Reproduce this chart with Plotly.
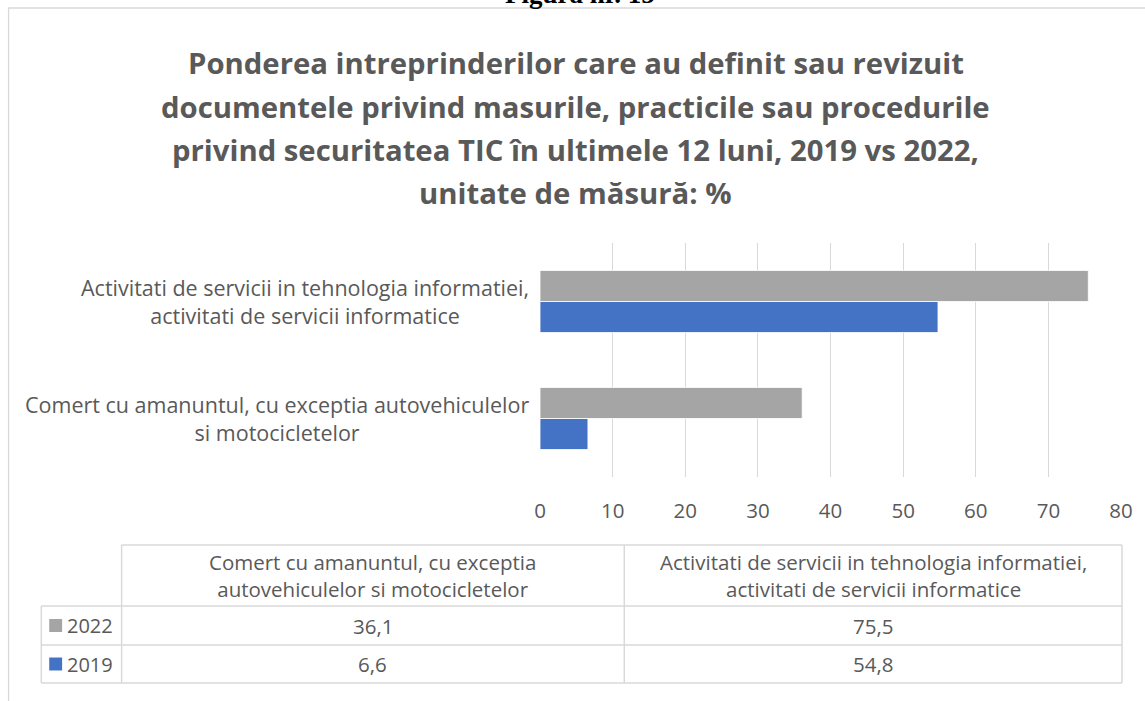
import plotly.graph_objects as go

# ---- data ----
categories = [
    "Comert cu amanuntul, cu exceptia autovehiculelor si motocicletelor",
    "Activitati de servicii in tehnologia informatiei, activitati de servicii informatice",
]
axis_labels = [
    "Comert cu amanuntul, cu exceptia autovehiculelor<br>si motocicletelor",
    "Activitati de servicii in tehnologia informatiei,<br>activitati de servicii informatice",
]
table_headers = [
    "Comert cu amanuntul, cu exceptia<br>autovehiculelor si motocicletelor",
    "Activitati de servicii in tehnologia informatiei,<br>activitati de servicii informatice",
]
series_names = ["2019", "2022"]
values_2019 = [6.6, 54.8]
values_2022 = [36.1, 75.5]
x_ticks = [0, 10, 20, 30, 40, 50, 60, 70, 80]
title_lines = [
    "Ponderea intreprinderilor care au definit sau revizuit",
    "documentele privind masurile, practicile sau procedurile",
    "privind securitatea TIC în ultimele 12 luni, 2019 vs 2022,",
    "unitate de măsură: %",
]

# ---- layout geometry (pixels) ----
W, H = 1145, 701
PL, PR, PT, PB = 540, 1126, 243, 477
TXT = "#595959"
GRID = "#d9d9d9"
FONT = "Open Sans"
colors = {"2019": "#4472c4", "2022": "#a5a5a5"}


def px(x):
    return (x - PL) / (PR - PL)


def py(y):
    return (PB - y) / (PB - PT)


fig = go.Figure()
for name, vals in [("2019", values_2019), ("2022", values_2022)]:
    fig.add_trace(go.Bar(
        y=categories, x=vals, name=name, orientation="h",
        marker=dict(color=colors[name], line=dict(color="white", width=0.8)),
        showlegend=False,
    ))

shapes = []
annotations = []

# outer chart border
shapes.append(dict(type="rect", xref="paper", yref="paper",
                   x0=px(4), x1=px(1152), y0=py(8), y1=py(710),
                   line=dict(color=GRID, width=1.3)))

# figure caption (cut off at the top, as in the source)
annotations.append(dict(text="<b>Figura nr. 15</b>", xref="paper", yref="paper",
                        x=px(580), y=py(11), xanchor="center", yanchor="bottom",
                        showarrow=False,
                        font=dict(family="Liberation Serif", size=27, color="black")))

# title lines
title_y = [63, 107, 150, 193]
for line, yy in zip(title_lines, title_y):
    annotations.append(dict(text="<b>" + line + "</b>", xref="paper", yref="paper",
                            x=px(576), y=py(yy), xanchor="center", yanchor="middle",
                            showarrow=False,
                            font=dict(family=FONT, size=29.3, color=TXT)))

# category labels
for cat, lab in zip(categories, axis_labels):
    annotations.append(dict(text=lab, xref="paper", yref="y", x=px(531), y=cat,
                            xanchor="right", yanchor="middle", align="center",
                            showarrow=False,
                            font=dict(family=FONT, size=21.5, color=TXT)))

# ---- data table ----
line_style = dict(color=GRID, width=1.5)
cx = [37, 118, 625, 1127]
ry = [545, 606, 645, 683]
shapes.append(dict(type="line", xref="paper", yref="paper", x0=px(cx[1]), x1=px(cx[3]),
                   y0=py(ry[0]), y1=py(ry[0]), line=line_style))
for yy in ry[1:]:
    shapes.append(dict(type="line", xref="paper", yref="paper", x0=px(cx[0]), x1=px(cx[3]),
                       y0=py(yy), y1=py(yy), line=line_style))
shapes.append(dict(type="line", xref="paper", yref="paper", x0=px(cx[0]), x1=px(cx[0]),
                   y0=py(ry[1]), y1=py(ry[3]), line=line_style))
for xx in cx[1:]:
    shapes.append(dict(type="line", xref="paper", yref="paper", x0=px(xx), x1=px(xx),
                       y0=py(ry[0]), y1=py(ry[3]), line=line_style))

for i, hdr in enumerate(table_headers):
    annotations.append(dict(text=hdr, xref="paper", yref="paper",
                            x=px((cx[i + 1] + cx[i + 2]) / 2), y=py(575),
                            xanchor="center", yanchor="middle", align="center",
                            showarrow=False,
                            font=dict(family=FONT, size=20.5, color=TXT)))

rows = [("2022", values_2022), ("2019", values_2019)]
for r, (name, vals) in enumerate(rows):
    yc = (ry[r + 1] + ry[r + 2]) / 2
    shapes.append(dict(type="rect", xref="paper", yref="paper",
                       x0=px(45), x1=px(58), y0=py(yc - 6.5), y1=py(yc + 6.5),
                       fillcolor=colors[name], line=dict(width=0)))
    annotations.append(dict(text=name, xref="paper", yref="paper",
                            x=px(61), y=py(yc), xanchor="left", yanchor="middle",
                            showarrow=False, font=dict(family=FONT, size=20, color=TXT)))
    for i, v in enumerate(vals):
        annotations.append(dict(text=f"{v:.1f}".replace(".", ","), xref="paper", yref="paper",
                                x=px((cx[i + 1] + cx[i + 2]) / 2), y=py(yc),
                                xanchor="center", yanchor="middle", showarrow=False,
                                font=dict(family=FONT, size=20.5, color=TXT)))

fig.update_layout(
    width=W, height=H,
    margin=dict(l=PL, r=W - PR, t=PT, b=H - PB, pad=0),
    paper_bgcolor="white", plot_bgcolor="white",
    barmode="group", bargap=0.47, bargroupgap=0,
    shapes=shapes, annotations=annotations,
    xaxis=dict(range=[0, 80], tickvals=x_ticks, showgrid=True, gridcolor=GRID, gridwidth=1.3,
               zeroline=False, showline=False, ticks="",
               tickfont=dict(family=FONT, size=20.5, color=TXT), ticklabelstandoff=19),
    yaxis=dict(categoryorder="array", categoryarray=categories, showticklabels=False,
               showgrid=False, zeroline=False, showline=False, ticks=""),
)

fig.write_html("out.html", config={"displayModeBar": False},
               post_script="document.body.style.margin='0';document.body.style.overflow='hidden';")
